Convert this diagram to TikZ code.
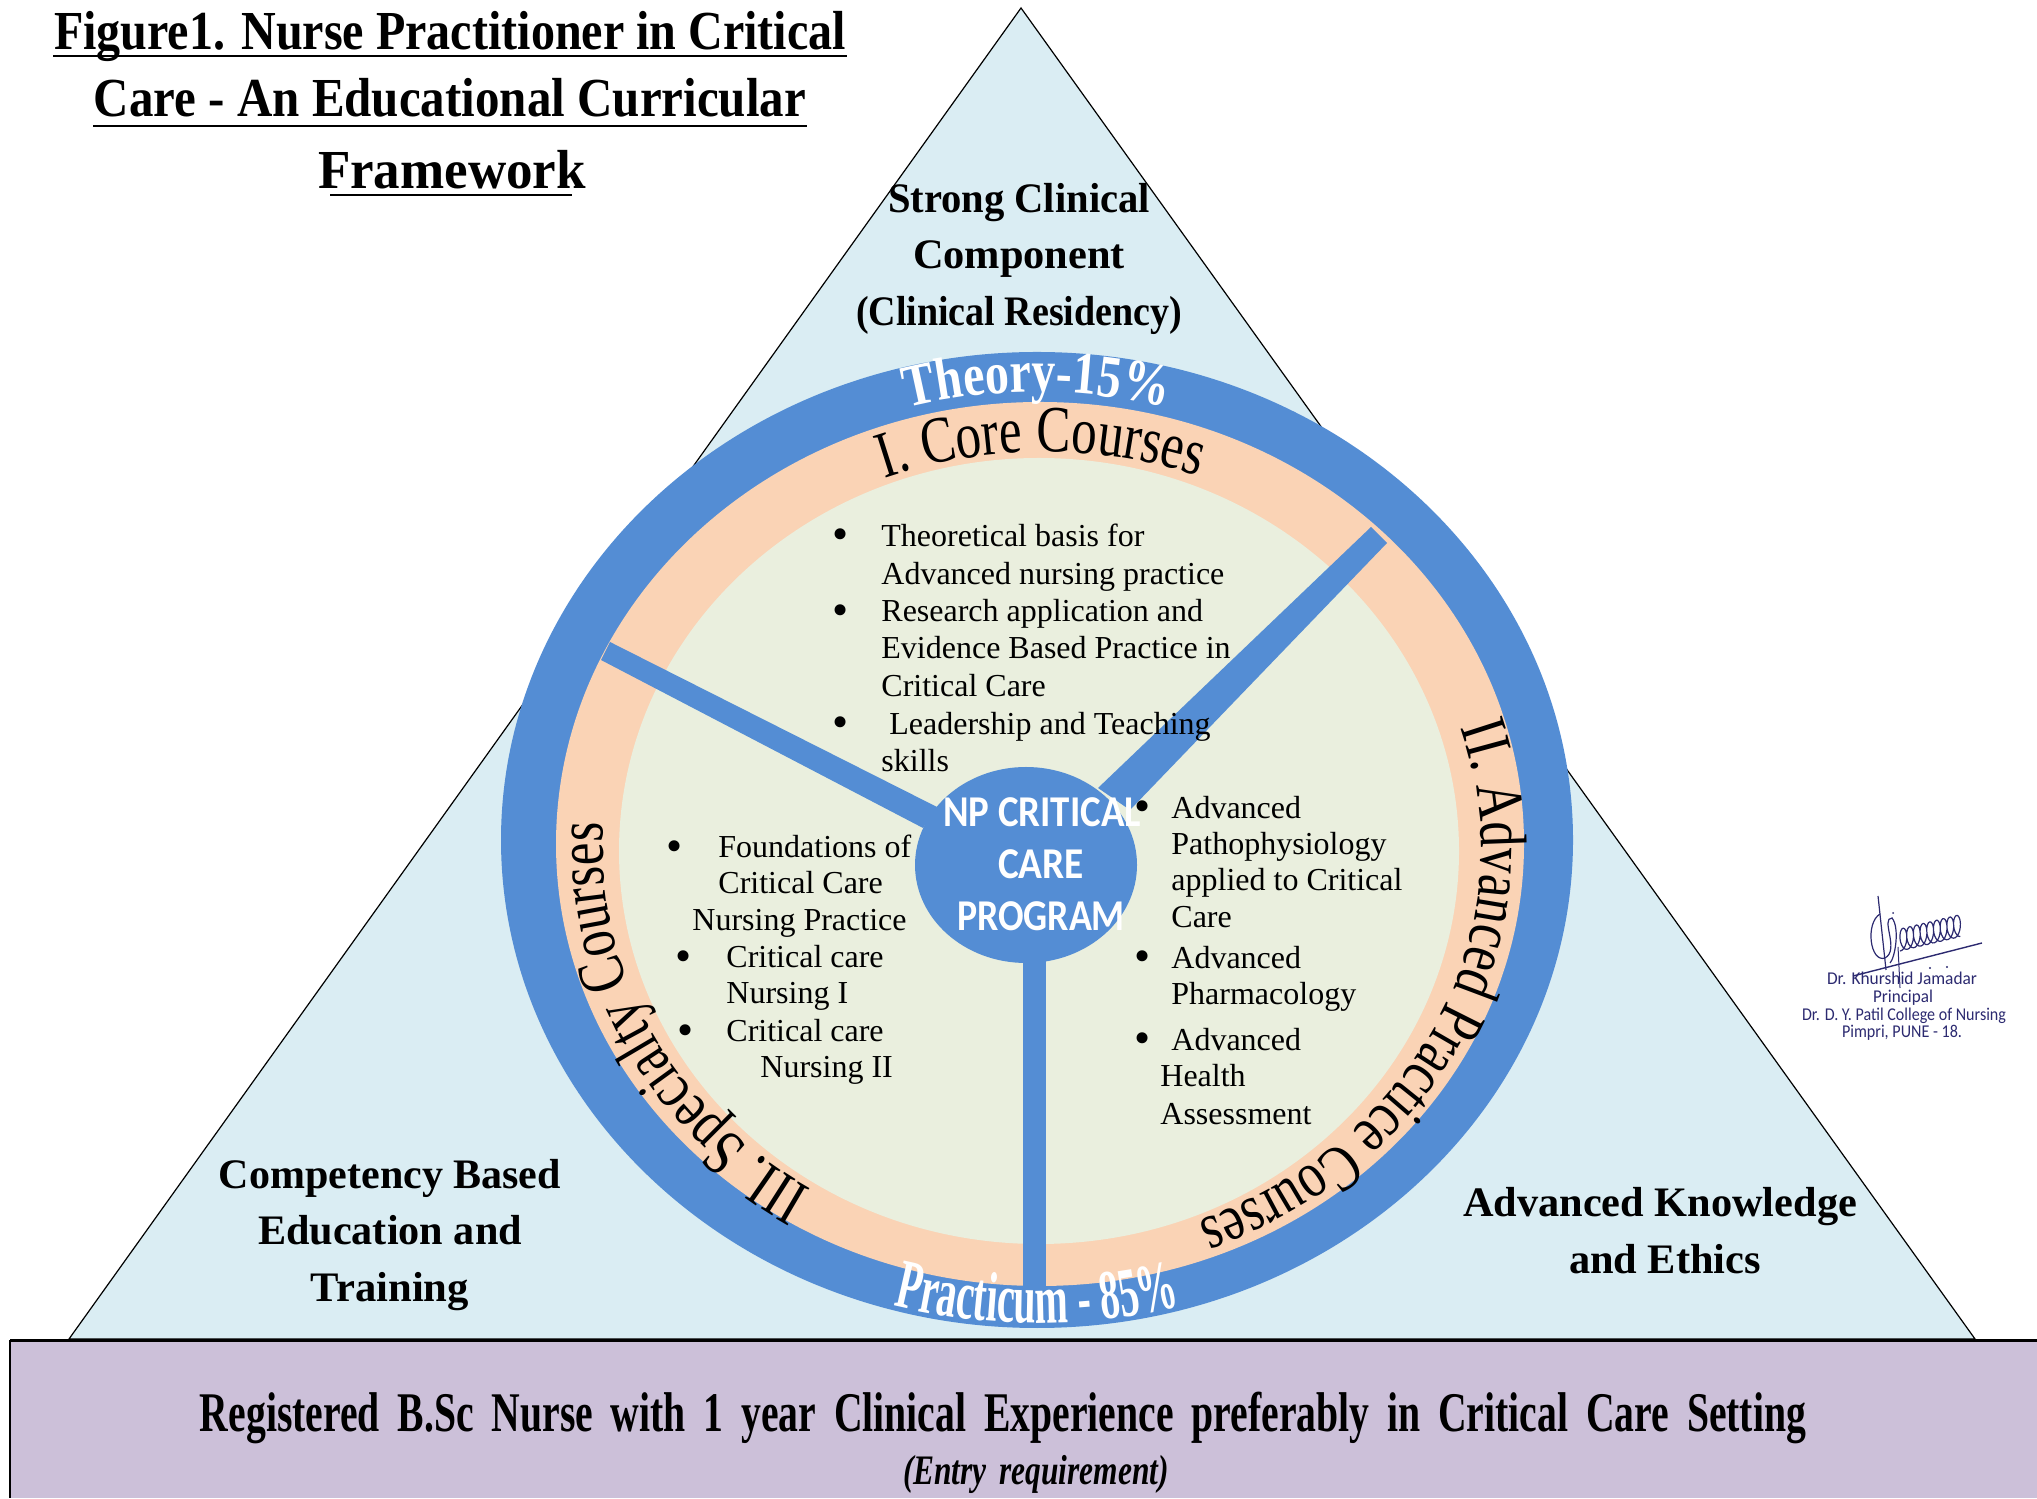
\documentclass[tikz,border=0pt]{standalone}
\usepackage{fontspec}
\usepackage{graphicx}
\usetikzlibrary{decorations.text}
\setmainfont{Liberation Serif}
\newfontfamily\capfont{Carlito}
\newfontfamily\ringC[FakeStretch=0.775]{Liberation Serif}
\newfontfamily\ringT[FakeStretch=0.80]{Liberation Serif}
\newfontfamily\ringP[FakeStretch=0.57]{Liberation Serif}
\definecolor{tri}{HTML}{DAEDF3}
\definecolor{ringblue}{HTML}{548DD4}
\definecolor{peach}{HTML}{FAD3B5}
\definecolor{sage}{HTML}{EAEFDE}
\definecolor{lav}{HTML}{CCC0D9}
\definecolor{ink}{HTML}{2C2A70}
\newcommand{\lw}[2]{\resizebox{#1}{\height}{#2}}
\tikzset{
 x=0.5pt,y=0.5pt,
 bodytext/.style={anchor=base west,inner sep=0pt,font=\fontsize{16}{16}\selectfont},
 bul/.style={anchor=center,inner sep=0pt,font=\fontsize{23}{23}\selectfont},
 headtext/.style={anchor=base,inner sep=0pt,font=\fontsize{21}{21}\selectfont\bfseries},
 ttl/.style={anchor=base,inner sep=0pt,font=\fontsize{27.5}{27.5}\selectfont\bfseries},
 hubtext/.style={anchor=base,inner sep=0pt,text=white,font=\fontsize{22}{22}\selectfont\capfont\bfseries},
 sigtext/.style={anchor=base,inner sep=0pt,text=ink,font=\fontsize{9}{9}\selectfont\capfont},
 ruleline/.style={draw=black,line width=1.1pt},
}
\begin{document}
\begin{tikzpicture}
\useasboundingbox (0,0) rectangle (2037,1498);
% triangle
\coordinate (apex) at (1021,1490);
\coordinate (tl) at (69,159);
\coordinate (tr) at (1975,159);
\draw[fill=tri,draw=black,line width=0.6pt] (tl) -- (apex) -- (tr) -- cycle;
% band
\path[fill=lav] (10,0) rectangle (2037,158);
\draw[black,line width=1.5pt] (2037,158) -- (10,158);
\draw[black,line width=0.7pt] (10,158) -- (10,0);
% rings
\fill[ringblue] (1037,658) ellipse [x radius=536,y radius=488];
\fill[peach] (1040,654) ellipse [x radius=484,y radius=442];
\fill[sage] (1039,647) ellipse [x radius=420,y radius=393];
% spokes
\fill[ringblue] (610,856) -- (601,838) -- (923,670) -- (937,691) -- cycle;
\fill[ringblue] (1371,971) -- (1387,955) -- (1130,688) -- (1098,710) -- cycle;
\fill[ringblue] (1023,212) rectangle (1046,560);
% hub
\fill[ringblue] (1026,633) ellipse [x radius=111,y radius=98];
\node[hubtext] (hubA) at (1042,671) {\lw{99pt}{NP CRITICAL}};
\node[hubtext] (hubB) at (1041,619) {\lw{43pt}{CARE}};
\node[hubtext] (hubC) at (1041,567) {\lw{84pt}{PROGRAM}};
% ring texts
\path[decorate,decoration={text along path,text align=center,text={|\color{black}\ringC\fontsize{33}{33}\selectfont|I. Core Courses}}]
  (1045,650) ++(130.5:450 and 396) arc[start angle=130.5,end angle=50.5,x radius=450,y radius=396];
\path[decorate,decoration={text along path,text align=center,text={|\color{black}\ringC\fontsize{33}{33}\selectfont|II. Advanced Practice Courses}}]
  (1040,650) ++(55.3:441 and 400) arc[start angle=55.3,end angle=-104.7,x radius=441,y radius=400];
\path[decorate,decoration={text along path,text align=center,text={|\color{black}\ringC\fontsize{33}{33}\selectfont|III. Specialty Courses}}]
  (1040,650) ++(266.5:437 and 400) arc[start angle=266.5,end angle=146.5,x radius=437,y radius=400];
\path[decorate,decoration={text along path,text align=center,text={|\color{white}\ringT\bfseries\fontsize{30}{30}\selectfont|Theory-15{\%}}}]
  (1037,658) ++(130:490 and 448) arc[start angle=130,end angle=50,x radius=490,y radius=448];
\path[decorate,decoration={text along path,text align=center,text={|\color{white}\ringP\bfseries\fontsize{35}{35}\selectfont|Practicum - 85{\%}}}]
  (1037,658) ++(230:540 and 483) arc[start angle=230,end angle=310,x radius=540,y radius=483];
% title
\node[ttl] (t1) at (450,1448) {\lw{396pt}{Figure1. Nurse Practitioner in Critical}};
\node[ttl] (t2) at (450,1381) {\lw{356pt}{Care - An Educational Curricular}};
\node[ttl] (t3) at (452,1309) {\lw{134pt}{Framework}};
\draw[ruleline] (53,1442) -- (847,1442);
\draw[ruleline] (93,1372) -- (807,1372);
\draw[ruleline] (330,1303) -- (572,1303);
% headings
\node[headtext] (h1) at (1019,1285) {\lw{131pt}{Strong Clinical}};
\node[headtext] (h2) at (1019,1229) {\lw{106pt}{Component}};
\node[headtext] (h3) at (1019,1172) {\lw{163pt}{(Clinical Residency)}};
\node[headtext] (h4) at (390,309) {\lw{171pt}{Competency Based}};
\node[headtext] (h5) at (390,254) {\lw{132pt}{Education and}};
\node[headtext] (h6) at (390,197) {\lw{79pt}{Training}};
\node[headtext] (h7) at (1660,281) {\lw{197pt}{Advanced Knowledge}};
\node[headtext] (h8) at (1665,225) {\lw{96pt}{and Ethics}};
% top list
\node[bul] (b1) at (841,959) {\textbullet};
\node[bul] (b2) at (841,883) {\textbullet};
\node[bul] (b3) at (841,771) {\textbullet};
\node[bodytext] (c1) at (881,951) {Theoretical basis for};
\node[bodytext] (c2) at (881,913) {Advanced nursing practice};
\node[bodytext] (c3) at (881,876) {Research application and};
\node[bodytext] (c4) at (881,839) {Evidence Based Practice in};
\node[bodytext] (c5) at (881,801) {Critical Care};
\node[bodytext] (c6) at (889,763) {Leadership and Teaching};
\node[bodytext] (c7) at (881,726) {skills};
% right list
\node[bul] (b4) at (1143,687) {\textbullet};
\node[bul] (b5) at (1143,537) {\textbullet};
\node[bul] (b6) at (1143,455) {\textbullet};
\node[bodytext] (r1) at (1171,679) {Advanced};
\node[bodytext] (r2) at (1171,643) {Pathophysiology};
\node[bodytext] (r3) at (1171,607) {applied to Critical};
\node[bodytext] (r4) at (1171,570) {Care};
\node[bodytext] (r5) at (1171,529) {Advanced};
\node[bodytext] (r6) at (1171,493) {Pharmacology};
\node[bodytext] (r7) at (1171,447) {Advanced};
\node[bodytext] (r8) at (1160,411) {Health};
\node[bodytext] (r9) at (1160,373) {Assessment};
% left list
\node[bul] (b7) at (675,647) {\textbullet};
\node[bul] (b8) at (684,537) {\textbullet};
\node[bul] (b9) at (686,463) {\textbullet};
\node[bodytext] (l1) at (718,640) {Foundations of};
\node[bodytext] (l2) at (718,604) {Critical Care};
\node[bodytext] (l3) at (692,567) {Nursing Practice};
\node[bodytext] (l4) at (726,530) {Critical care};
\node[bodytext] (l5) at (726,494) {Nursing I};
\node[bodytext] (l6) at (726,456) {Critical care};
\node[bodytext] (l7) at (760,420) {Nursing II};
% band text
\node[anchor=base,inner sep=0pt,font=\fontsize{28}{28}\selectfont\bfseries] (e1) at (1003,67) {\lw{803pt}{\spaceskip=0.45em\relax Registered B.Sc Nurse with 1 year Clinical Experience preferably in Critical Care Setting}};
\node[anchor=base,inner sep=0pt,font=\fontsize{21}{21}\selectfont\bfseries\itshape] (e2) at (1036,14) {\lw{133pt}{\spaceskip=0.4em\relax (Entry requirement)}};
% signature
\node[sigtext] (s1) at (1902,513) {\lw{75pt}{Dr. Khurshid Jamadar}};
\node[sigtext] (s2) at (1903,495) {\lw{30pt}{Principal}};
\node[sigtext] (s3) at (1904,477) {\lw{102pt}{Dr. D. Y. Patil College of Nursing}};
\node[sigtext] (s4) at (1902,460) {\lw{60pt}{Pimpri, PUNE - 18.}};
\draw[ink,line width=0.6pt] (1878,602) -- (1886,528);
\draw[ink,line width=0.5pt] (1898,551) -- (1900,510);
\draw[ink,line width=0.7pt] (1853,522) -- (1982,555);
\draw[ink,line width=0.6pt] (1880,584) .. controls (1865,575) and (1870,535) .. (1885,540) .. controls (1900,548) and (1880,580) .. (1892,580) .. controls (1900,570) and (1895,540) .. (1890,535);
\draw[ink,line width=0.6pt,smooth,samples=180,domain=0:9] plot ({1900+\x*6.7+5*sin(\x*360)},{558+\x*1.6+11*cos(\x*360+180)});
\fill[ink] (1893,585) circle[radius=1] (1930,530) circle[radius=1.2] (1947,531) circle[radius=1.2];
\end{tikzpicture}
\end{document}
